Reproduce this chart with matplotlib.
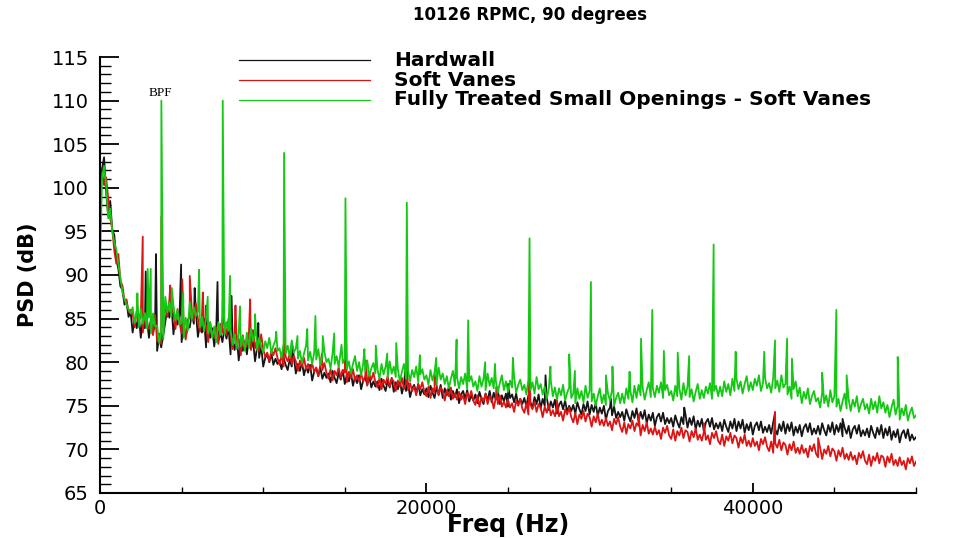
import numpy as np
import matplotlib
matplotlib.use('Agg')
import matplotlib.pyplot as plt
from matplotlib.lines import Line2D
from matplotlib.ticker import MultipleLocator, FixedLocator

# frequency bins of the broadband spectra, Hz (125 Hz spacing, 0-50 kHz)
freq = np.arange(0, 50001, 125)

hardwall = [
    101.0, 102.2, 103.5, 99.6, 96.8, 98.5, 95.2, 94.6,
    91.8, 90.7, 88.7, 88.3, 86.6, 86.9, 85.2, 85.8,
    83.4, 85.0, 83.9, 85.5, 82.8, 84.9, 83.9, 85.0,
    82.8, 84.8, 83.4, 84.4, 81.3, 82.9, 81.7, 83.1,
    84.6, 86.2, 85.1, 86.7, 83.2, 85.3, 84.3, 85.4,
    82.3, 84.3, 82.9, 83.9, 84.0, 85.6, 84.4, 85.8,
    82.9, 84.5, 83.4, 85.0, 81.7, 83.8, 82.8, 83.9,
    81.8, 83.8, 82.4, 83.4, 82.3, 83.9, 82.7, 84.1,
    80.9, 82.5, 81.4, 83.0, 80.2, 82.3, 81.3, 82.4,
    80.9, 82.9, 81.5, 82.5, 80.1, 81.7, 80.5, 81.9,
    79.5, 80.5, 80.9, 80.0, 81.0, 79.7, 80.4, 79.8,
    80.2, 79.2, 80.5, 79.7, 79.1, 80.3, 79.5, 80.6,
    78.7, 79.8, 79.0, 80.0, 78.5, 79.5, 78.8, 79.7,
    77.9, 78.9, 79.3, 78.4, 79.4, 78.1, 78.8, 78.2,
    78.7, 77.7, 79.0, 78.2, 77.6, 78.8, 78.0, 79.1,
    77.5, 78.6, 77.8, 78.8, 77.3, 78.3, 77.6, 78.5,
    76.9, 77.9, 78.3, 77.4, 78.4, 77.1, 77.8, 77.2,
    77.8, 76.8, 78.1, 77.3, 76.7, 77.9, 77.1, 78.2,
    76.6, 77.7, 76.9, 77.9, 76.4, 77.4, 76.7, 77.6,
    76.0, 77.0, 77.4, 76.5, 77.5, 76.2, 76.9, 76.3,
    77.0, 76.0, 77.3, 76.5, 75.9, 77.1, 76.3, 77.4,
    75.9, 77.0, 76.2, 77.2, 75.7, 76.7, 76.0, 76.9,
    75.3, 76.3, 76.7, 75.8, 76.8, 75.5, 76.2, 75.6,
    76.3, 75.3, 76.6, 75.8, 75.2, 76.4, 75.6, 76.7,
    75.4, 76.5, 75.7, 76.7, 75.2, 76.2, 75.5, 76.4,
    74.9, 75.9, 76.3, 75.4, 76.4, 75.1, 75.8, 75.2,
    75.9, 74.9, 76.2, 75.4, 74.8, 76.0, 75.2, 76.3,
    74.7, 75.8, 75.0, 76.0, 74.5, 75.5, 74.8, 75.7,
    74.1, 75.1, 75.5, 74.6, 75.6, 74.3, 75.0, 74.4,
    75.1, 74.1, 75.4, 74.6, 74.0, 75.2, 74.4, 75.5,
    74.0, 75.1, 74.3, 75.3, 73.8, 74.8, 74.1, 75.0,
    73.4, 74.4, 74.8, 73.9, 74.9, 73.6, 74.3, 73.7,
    74.3, 73.3, 74.6, 73.8, 73.2, 74.4, 73.6, 74.7,
    73.2, 74.3, 73.5, 74.5, 73.0, 74.0, 73.3, 74.2,
    72.7, 73.7, 74.1, 73.2, 74.2, 72.9, 73.6, 73.0,
    73.6, 72.6, 73.9, 73.1, 72.5, 73.7, 72.9, 74.0,
    72.5, 73.6, 72.8, 73.8, 72.3, 73.3, 72.6, 73.5,
    72.1, 73.1, 73.5, 72.6, 73.6, 72.3, 73.0, 72.4,
    73.1, 72.1, 73.4, 72.6, 72.0, 73.2, 72.4, 73.5,
    72.1, 73.2, 72.4, 73.4, 71.9, 72.9, 72.2, 73.1,
    71.7, 72.7, 73.1, 72.2, 73.2, 71.9, 72.6, 72.0,
    72.8, 71.8, 73.1, 72.3, 71.7, 72.9, 72.1, 73.2,
    71.8, 72.9, 72.1, 73.1, 71.6, 72.6, 71.9, 72.8,
    71.5, 72.5, 72.9, 72.0, 73.0, 71.7, 72.4, 71.8,
    72.7, 71.7, 73.0, 72.2, 71.6, 72.8, 72.0, 73.1,
    71.7, 72.8, 72.0, 73.0, 71.5, 72.5, 71.8, 72.7,
    71.3, 72.3, 72.7, 71.8, 72.8, 71.5, 72.2, 71.6,
    72.4, 71.4, 72.7, 71.9, 71.3, 72.5, 71.7, 72.8,
    71.3, 72.4, 71.6, 72.6, 71.1, 72.1, 71.4, 72.3,
    70.8, 71.8, 72.2, 71.3, 72.3, 71.0, 71.7, 71.1,
    71.4]

soft_vanes = [
    100.5, 101.8, 100.3, 101.2, 98.8, 96.5, 95.3, 92.8,
    91.3, 92.4, 89.3, 88.8, 87.0, 87.2, 85.8, 86.0,
    85.5, 84.0, 85.9, 84.7, 85.3, 83.4, 85.7, 84.1,
    83.8, 85.0, 83.1, 85.4, 82.4, 83.3, 82.1, 84.0,
    86.7, 85.2, 87.1, 85.9, 85.7, 83.8, 86.1, 84.5,
    83.3, 84.5, 82.6, 84.9, 85.1, 86.0, 84.8, 86.7,
    85.0, 83.5, 85.4, 84.2, 84.2, 82.3, 84.6, 83.0,
    82.8, 84.0, 82.1, 84.4, 83.4, 84.3, 83.1, 85.0,
    83.0, 81.5, 83.4, 82.2, 82.7, 80.8, 83.1, 81.5,
    82.1, 83.3, 81.4, 83.7, 81.6, 82.5, 81.3, 83.2,
    81.5, 80.6, 81.1, 80.1, 81.4, 80.8, 81.6, 80.5,
    79.7, 80.8, 79.5, 80.6, 80.1, 81.0, 79.8, 80.7,
    80.1, 79.0, 80.2, 79.5, 80.5, 79.2, 79.8, 79.1,
    79.8, 78.9, 79.4, 78.4, 79.7, 79.1, 79.9, 78.8,
    78.1, 79.2, 77.9, 79.0, 78.5, 79.4, 78.2, 79.1,
    78.8, 77.7, 78.9, 78.2, 79.2, 77.9, 78.5, 77.8,
    78.7, 77.8, 78.3, 77.3, 78.6, 78.0, 78.8, 77.7,
    77.1, 78.2, 76.9, 78.0, 77.5, 78.4, 77.2, 78.1,
    77.8, 76.7, 77.9, 77.2, 78.2, 76.9, 77.5, 76.8,
    77.6, 76.7, 77.2, 76.2, 77.5, 76.9, 77.7, 76.6,
    76.1, 77.2, 75.9, 77.0, 76.5, 77.4, 76.2, 77.1,
    76.7, 75.6, 76.8, 76.1, 77.1, 75.8, 76.4, 75.7,
    76.6, 75.7, 76.2, 75.2, 76.5, 75.9, 76.7, 75.6,
    75.1, 76.2, 74.9, 76.0, 75.5, 76.4, 75.2, 76.1,
    75.8, 74.7, 75.9, 75.2, 76.2, 74.9, 75.5, 74.8,
    75.7, 74.8, 75.3, 74.3, 75.6, 75.0, 75.8, 74.7,
    74.2, 75.3, 74.0, 75.1, 74.6, 75.5, 74.3, 75.2,
    74.8, 73.7, 74.9, 74.2, 75.2, 73.9, 74.5, 73.8,
    74.7, 73.8, 74.3, 73.3, 74.6, 74.0, 74.8, 73.7,
    73.1, 74.2, 72.9, 74.0, 73.5, 74.4, 73.2, 74.1,
    73.7, 72.6, 73.8, 73.1, 74.1, 72.8, 73.4, 72.7,
    73.6, 72.7, 73.2, 72.2, 73.5, 72.9, 73.7, 72.6,
    72.0, 73.1, 71.8, 72.9, 72.4, 73.3, 72.1, 73.0,
    72.7, 71.6, 72.8, 72.1, 73.1, 71.8, 72.4, 71.7,
    72.6, 71.7, 72.2, 71.2, 72.5, 71.9, 72.7, 71.6,
    71.2, 72.3, 71.0, 72.1, 71.6, 72.5, 71.3, 72.2,
    72.0, 70.9, 72.1, 71.4, 72.4, 71.1, 71.7, 71.0,
    72.0, 71.1, 71.6, 70.6, 71.9, 71.3, 72.1, 71.0,
    70.6, 71.7, 70.4, 71.5, 71.0, 71.9, 70.7, 71.6,
    71.3, 70.2, 71.4, 70.7, 71.7, 70.4, 71.0, 70.3,
    71.3, 70.4, 70.9, 69.9, 71.2, 70.6, 71.4, 70.3,
    69.8, 70.9, 69.6, 70.7, 70.2, 71.1, 69.9, 70.8,
    70.5, 69.4, 70.6, 69.9, 70.9, 69.6, 70.2, 69.5,
    70.5, 69.6, 70.1, 69.1, 70.4, 69.8, 70.6, 69.5,
    69.1, 70.2, 68.9, 70.0, 69.5, 70.4, 69.2, 70.1,
    69.8, 68.7, 69.9, 69.2, 70.2, 68.9, 69.5, 68.8,
    69.7, 68.8, 69.3, 68.3, 69.6, 69.0, 69.8, 68.7,
    68.3, 69.4, 68.1, 69.2, 68.7, 69.6, 68.4, 69.3,
    69.1, 68.0, 69.2, 68.5, 69.5, 68.2, 68.8, 68.1,
    69.1, 68.2, 68.7, 67.7, 69.0, 68.4, 69.2, 68.1,
    68.6]

fully_treated = [
    91.5, 101.0, 102.5, 100.3, 96.5, 97.6, 95.0, 93.8,
    92.9, 91.2, 89.7, 88.0, 87.3, 86.6, 86.1, 85.6,
    86.3, 84.5, 85.7, 84.0, 86.1, 84.4, 85.6, 83.9,
    85.1, 83.3, 85.6, 84.1, 84.2, 82.2, 83.6, 82.6,
    87.5, 85.7, 86.9, 85.2, 86.5, 84.8, 86.0, 84.3,
    84.6, 82.8, 85.1, 83.6, 86.9, 84.9, 86.3, 85.3,
    85.8, 84.0, 85.2, 83.5, 85.0, 83.3, 84.5, 82.8,
    84.1, 82.3, 84.6, 83.1, 85.2, 83.2, 84.6, 83.6,
    83.8, 82.0, 83.2, 81.5, 83.5, 81.8, 83.0, 81.3,
    83.4, 81.6, 83.9, 82.4, 83.4, 81.4, 82.8, 81.8,
    81.1, 82.4, 81.6, 82.8, 81.0, 81.9, 82.5, 81.3,
    81.6, 80.5, 82.2, 81.0, 81.9, 80.6, 82.5, 81.1,
    81.6, 80.4, 81.3, 79.9, 81.0, 81.9, 80.2, 81.2,
    79.8, 81.1, 80.3, 81.5, 79.7, 80.6, 81.2, 80.0,
    80.4, 79.3, 81.0, 79.8, 80.7, 79.4, 81.3, 79.9,
    80.4, 79.2, 80.1, 78.7, 79.8, 80.7, 79.0, 80.0,
    78.5, 79.8, 79.0, 80.2, 78.4, 79.3, 79.9, 78.7,
    79.2, 78.1, 79.8, 78.6, 79.5, 78.2, 80.1, 78.7,
    79.5, 78.3, 79.2, 77.8, 78.9, 79.8, 78.1, 79.1,
    77.8, 79.1, 78.3, 79.5, 77.7, 78.6, 79.2, 78.0,
    78.5, 77.4, 79.1, 77.9, 78.8, 77.5, 79.4, 78.0,
    78.7, 77.5, 78.4, 77.0, 78.1, 79.0, 77.3, 78.3,
    77.0, 78.3, 77.5, 78.7, 76.9, 77.8, 78.4, 77.2,
    77.8, 76.7, 78.4, 77.2, 78.1, 76.8, 78.7, 77.3,
    78.2, 77.0, 77.9, 76.5, 77.6, 78.5, 76.8, 77.8,
    76.6, 77.9, 77.1, 78.3, 76.5, 77.4, 78.0, 76.8,
    77.4, 76.3, 78.0, 76.8, 77.7, 76.4, 78.3, 76.9,
    77.5, 76.3, 77.2, 75.8, 76.9, 77.8, 76.1, 77.1,
    75.7, 77.0, 76.2, 77.4, 75.6, 76.5, 77.1, 75.9,
    76.4, 75.3, 77.0, 75.8, 76.7, 75.4, 77.3, 75.9,
    76.7, 75.5, 76.4, 75.0, 76.1, 77.0, 75.3, 76.3,
    75.1, 76.4, 75.6, 76.8, 75.0, 75.9, 76.5, 75.3,
    76.4, 75.3, 77.0, 75.8, 76.7, 75.4, 77.3, 75.9,
    77.4, 76.2, 77.1, 75.7, 76.8, 77.7, 76.0, 77.0,
    76.0, 77.3, 76.5, 77.7, 75.9, 76.8, 77.4, 76.2,
    76.7, 75.6, 77.3, 76.1, 77.0, 75.7, 77.6, 76.2,
    77.2, 76.0, 76.9, 75.5, 76.6, 77.5, 75.8, 76.8,
    75.9, 77.2, 76.4, 77.6, 75.8, 76.7, 77.3, 76.1,
    77.2, 76.1, 77.8, 76.6, 77.5, 76.2, 78.1, 76.7,
    78.1, 76.9, 77.8, 76.4, 77.5, 78.4, 76.7, 77.7,
    76.8, 78.1, 77.3, 78.5, 76.7, 77.6, 78.2, 77.0,
    77.6, 76.5, 78.2, 77.0, 77.9, 76.6, 78.5, 77.1,
    77.5, 76.3, 77.2, 75.8, 76.9, 77.8, 76.1, 77.1,
    75.3, 76.6, 75.8, 77.0, 75.2, 76.1, 76.7, 75.5,
    75.9, 74.8, 76.5, 75.3, 76.2, 74.9, 76.8, 75.4,
    76.1, 74.9, 75.8, 74.4, 75.5, 76.4, 74.7, 75.7,
    74.4, 75.7, 74.9, 76.1, 74.3, 75.2, 75.8, 74.6,
    75.2, 74.1, 75.8, 74.6, 75.5, 74.2, 76.1, 74.7,
    75.4, 74.2, 75.1, 73.7, 74.8, 75.7, 74.0, 75.0,
    73.4, 74.7, 73.9, 75.1, 73.3, 74.2, 74.8, 73.6,
    73.9]

# narrow tones (kHz, dB) sitting on top of the broadband levels
hardwall_tone_khz = [2.8, 3.43, 4.97, 5.8, 6.5, 7.2, 8.06, 9.7, 11.8, 18.7,
                     25.0, 27.3, 31.3, 35.8, 41.36, 45.5]
hardwall_tone_db = [90.4, 92.4, 91.2, 88.5, 86.5, 89.2, 87.6, 84.5, 81.8, 79.0,
                    77.5, 78.5, 75.8, 74.8, 74.2, 73.5]

soft_tone_khz = [2.62, 3.76, 4.3, 5.04, 5.5, 6.3, 7.52, 8.3, 9.2, 11.28,
                 13.6, 15.04, 16.3, 18.80, 20.5, 24.3, 26.32, 28.0, 33.0, 37.0,
                 41.36, 44.0]
soft_tone_db = [94.4, 96.7, 88.8, 89.5, 89.9, 88.0, 87.0, 86.5, 87.2, 84.5,
                81.0, 86.0, 80.2, 80.7, 78.6, 77.2, 81.7, 75.6, 74.0, 73.0,
                74.3, 71.3]

treated_tone_khz = [2.29, 2.92, 3.11, 3.76, 4.4, 5.1, 6.07, 6.6, 7.52, 7.97,
                    8.58, 9.5, 10.8, 11.28, 12.1, 12.7, 13.2, 13.65, 14.35, 14.8,
                    15.04, 16.2, 16.9, 17.6, 18.15, 18.80, 19.6, 20.6, 21.85, 22.56,
                    23.6, 24.2, 25.3, 26.32, 27.6, 28.75, 29.1, 30.08, 31.0, 31.4,
                    32.45, 33.15, 33.84, 34.55, 35.4, 36.1, 37.60, 38.95, 40.7, 41.36,
                    42.1, 42.4, 44.25, 45.12, 45.75, 48.88]
treated_tone_db = [87.9, 90.7, 90.7, 110.0, 88.5, 88.0, 90.6, 87.5, 110.0, 89.9,
                   86.4, 85.5, 83.5, 104.0, 83.0, 83.8, 85.3, 83.0, 83.3, 82.0,
                   98.8, 81.5, 81.9, 81.0, 82.2, 98.3, 80.8, 80.5, 82.6, 84.8,
                   80.0, 79.8, 80.5, 94.2, 79.5, 80.9, 79.0, 89.2, 78.5, 79.5,
                   78.9, 82.7, 86.0, 81.3, 81.1, 80.7, 93.5, 81.2, 81.2, 82.5,
                   82.7, 80.4, 78.8, 86.0, 78.5, 80.6]

labels = ['Hardwall', 'Soft Vanes', 'Fully Treated Small Openings - Soft Vanes']
colors = ['#151515', '#dc1414', '#14c814']


def with_tones(base, tone_khz, tone_db):
    f = np.concatenate([freq, np.array(tone_khz) * 1000.0])
    v = np.concatenate([np.array(base), np.array(tone_db)])
    o = np.argsort(f, kind='stable')
    return f[o], v[o]


fig = plt.figure(figsize=(9.77, 5.38), dpi=100)
ax = fig.add_axes([100 / 977, 45 / 538, 816 / 977, 436 / 538])

series = [(hardwall, hardwall_tone_khz, hardwall_tone_db),
          (soft_vanes, soft_tone_khz, soft_tone_db),
          (fully_treated, treated_tone_khz, treated_tone_db)]
for (base, tk, td), c in zip(series, colors):
    f, v = with_tones(base, tk, td)
    ax.plot(f, v, color=c, lw=1.3)

ax.set_xlim(0, 50000)
ax.set_ylim(65, 115)

ax.xaxis.set_major_locator(FixedLocator([0, 20000, 40000]))
ax.xaxis.set_minor_locator(MultipleLocator(5000))
ax.yaxis.set_major_locator(MultipleLocator(5))
ax.yaxis.set_minor_locator(MultipleLocator(1))

for s in ['top', 'right']:
    ax.spines[s].set_visible(False)
for s in ['left', 'bottom']:
    ax.spines[s].set_linewidth(1.5)

ax.tick_params(axis='y', which='major', direction='in', length=14, width=1.3, pad=8, labelsize=14)
ax.tick_params(axis='y', which='minor', direction='in', length=8, width=1.0)
ax.tick_params(axis='x', which='major', direction='in', length=7, width=1.3, pad=4, labelsize=14)
ax.tick_params(axis='x', which='minor', direction='in', length=4.5, width=1.0)

ax.set_xlabel('Freq (Hz)', fontsize=17, fontweight='bold', labelpad=-3)
ax.set_ylabel('PSD (dB)', fontsize=15, fontweight='bold', labelpad=10)

ax.text(3700, 110.9, 'BPF', ha='center', va='center', fontsize=9.5, family='Liberation Serif')

fig.text(530 / 977, 1 - 15 / 538, '10126 RPMC, 90 degrees', ha='center', va='center',
         fontsize=12, fontweight='bold')

# legend drawn in figure pixels like the original
for lab, c, ypx in zip(labels, colors, [60, 80, 100]):
    yf = 1 - ypx / 538
    fig.add_artist(Line2D([239 / 977, 370 / 977], [yf, yf], color=c, lw=0.9))
    fig.text(394 / 977, yf, lab, va='center', ha='left', fontsize=14.5, fontweight='bold')

fig.savefig('out.png', dpi=100)
